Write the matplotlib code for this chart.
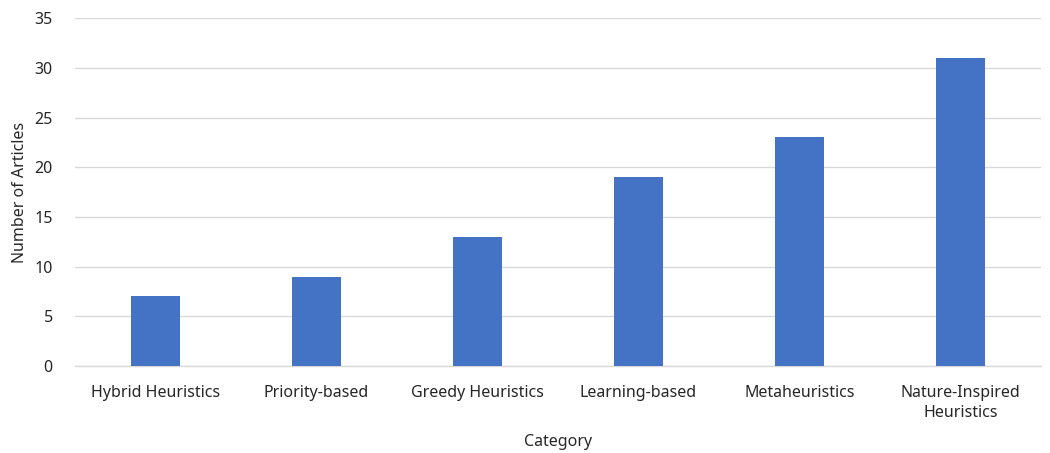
import matplotlib.pyplot as plt

categories = ["Hybrid Heuristics", "Priority-based", "Greedy Heuristics",
              "Learning-based", "Metaheuristics", "Nature-Inspired\nHeuristics"]
articles = [7, 9, 13, 19, 23, 31]
yticks = [0, 5, 10, 15, 20, 25, 30, 35]

txt = '#262626'
fs = 11.5
plt.rcParams['font.family'] = ['Noto Sans', 'DejaVu Sans']

fig = plt.figure(figsize=(10.5, 4.53), dpi=100)
ax = fig.add_axes([0.0714, 0.192, 0.92, 0.768])

x = range(len(categories))
ax.bar(x, articles, width=0.31, color='#4472C4', zorder=3)

ax.set_xlim(-0.5, len(categories) - 0.5)
ax.set_ylim(0, 35)
ax.set_yticks(yticks)
ax.set_xticks(list(x))
ax.set_xticklabels(categories, fontsize=fs, color=txt, linespacing=1.3)
ax.tick_params(axis='y', labelsize=fs, labelcolor=txt, length=0, pad=16)
ax.tick_params(axis='x', length=0, pad=14)

ax.grid(axis='y', color='#d9d9d9', linewidth=1.0, zorder=0)
for s in ['top', 'right', 'left']:
    ax.spines[s].set_visible(False)
ax.spines['bottom'].set_color('#d9d9d9')
ax.spines['bottom'].set_linewidth(1.0)

ax.set_ylabel("Number of Articles", fontsize=fs, color=txt, va='center')
ax.yaxis.set_label_coords(-0.057, 0.5)
ax.set_xlabel("Category", fontsize=fs, color=txt, va='center')
ax.xaxis.set_label_coords(0.5, -0.218)

plt.savefig('out.png', dpi=100)
